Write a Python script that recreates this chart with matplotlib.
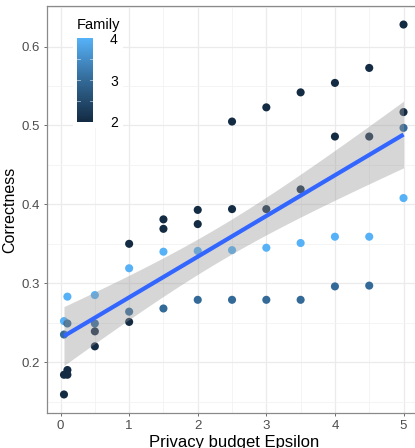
import numpy as np
import matplotlib

matplotlib.use("Agg")
import matplotlib.pyplot as plt
from matplotlib.colors import LinearSegmentedColormap, Normalize
from matplotlib.cm import ScalarMappable
from matplotlib.patches import Rectangle

plt.rcParams["font.family"] = ["Liberation Sans", "DejaVu Sans"]

# privacy budget, correctness, family
epsilon = [
    0.05, 0.05, 0.05, 0.05,
    0.1, 0.1, 0.1, 0.1,
    0.5, 0.5, 0.5, 0.5,
    1, 1, 1, 1,
    1.5, 1.5, 1.5, 1.5,
    2, 2, 2, 2,
    2.5, 2.5, 2.5, 2.5,
    3, 3, 3, 3,
    3.5, 3.5, 3.5, 3.5,
    4, 4, 4, 4,
    4.5, 4.5, 4.5, 4.5,
    5, 5, 5, 5,
]
correctness = [
    0.252, 0.235, 0.184, 0.159,
    0.283, 0.249, 0.190, 0.184,
    0.285, 0.249, 0.239, 0.220,
    0.350, 0.319, 0.264, 0.251,
    0.381, 0.369, 0.340, 0.268,
    0.393, 0.375, 0.341, 0.279,
    0.505, 0.394, 0.342, 0.279,
    0.523, 0.394, 0.345, 0.279,
    0.542, 0.419, 0.351, 0.279,
    0.554, 0.486, 0.359, 0.296,
    0.573, 0.486, 0.359, 0.297,
    0.628, 0.517, 0.497, 0.408,
]
family = [
    4, 3, 2, 2,
    4, 3, 2, 2,
    4, 3, 2, 2,
    2, 4, 3, 2,
    2, 2, 4, 3,
    2, 2, 4, 3,
    2, 2, 4, 3,
    2, 2, 4, 3,
    2, 2, 4, 3,
    2, 2, 4, 3,
    2, 2, 4, 3,
    2, 2, 3, 4,
]
x_ticks = [0, 1, 2, 3, 4, 5]
y_ticks = [0.2, 0.3, 0.4, 0.5, 0.6]
legend_ticks = [2, 3, 4]

x = np.array(epsilon)
y = np.array(correctness)

# ggplot-like blue gradient
cmap = LinearSegmentedColormap.from_list("gg", ["#132B43", "#336A98", "#56B1F7"])
norm = Normalize(2, 4)

W, H = 415, 448
fig = plt.figure(figsize=(W / 100, H / 100), dpi=100)
ax = fig.add_axes([47 / W, 35 / H, (420.5 - 47) / W, (442 - 35) / H])

ax.scatter(x, y, c=family, cmap=cmap, norm=norm, s=34, linewidths=0, zorder=3)

# linear fit with 95% band
n = len(x)
slope, inter = np.polyfit(x, y, 1)
xs = np.linspace(x.min(), x.max(), 80)
fit = inter + slope * xs
resid = y - (inter + slope * x)
s = np.sqrt(np.sum(resid**2) / (n - 2))
se = s * np.sqrt(1 / n + (xs - x.mean()) ** 2 / np.sum((x - x.mean()) ** 2))
tq = 2.0129
ax.fill_between(xs, fit - tq * se, fit + tq * se, color="#999999", alpha=0.4,
                linewidth=0, zorder=4)
ax.plot(xs, fit, color="#3366FF", lw=3, zorder=5, solid_capstyle="butt")

ax.set_xlim(-0.1975, 5.2475)
ax.set_ylim(0.1355, 0.6515)
ax.set_xticks(x_ticks)
ax.set_yticks(y_ticks)
ax.set_xticks(np.arange(0.5, 5, 1), minor=True)
ax.set_yticks(np.arange(0.15, 0.66, 0.1), minor=True)
ax.grid(which="major", color="#EBEBEB", lw=0.9, zorder=0)
ax.grid(which="minor", color="#F3F3F3", lw=0.6, zorder=0)
ax.set_axisbelow(True)
ax.tick_params(which="major", length=2.5, width=0.6, color="#555555",
               labelsize=9.5, labelcolor="#4D4D4D", pad=2.5)
ax.tick_params(which="minor", length=0)
for sp in ax.spines.values():
    sp.set_color("#8a8a8a")
    sp.set_linewidth(0.9)

ax.set_xlabel("Privacy budget Epsilon", fontsize=12, labelpad=2)
ax.set_ylabel("Correctness", fontsize=11.5, labelpad=3)

# legend box
ax.add_patch(Rectangle((73 / W, 1 - 128 / H), 50 / W, 120 / H,
                       transform=fig.transFigure, facecolor="white",
                       edgecolor="none", zorder=6))
fig.text(77 / W, 1 - 25 / H, "Family", fontsize=10.5, va="center", ha="left")
cax = fig.add_axes([76.7 / W, 1 - 121.7 / H, 16.6 / W, 83.4 / H])
cb = fig.colorbar(ScalarMappable(norm=norm, cmap=cmap), cax=cax)
cb.outline.set_visible(False)
cb.set_ticks(legend_ticks)
cax.tick_params(length=0, pad=12, labelsize=10)
for v in [2.5, 3, 3.5]:
    cax.axhline(v, xmin=0, xmax=0.2, color="white", lw=0.6, alpha=0.6)
    cax.axhline(v, xmin=0.8, xmax=1, color="white", lw=0.6, alpha=0.6)

fig.savefig("out.png", dpi=100)
